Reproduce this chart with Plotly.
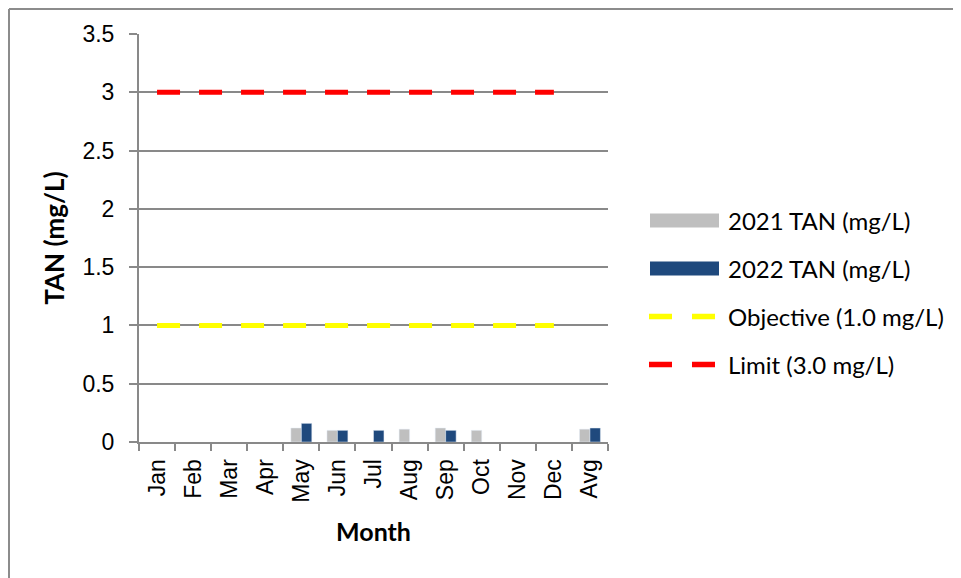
import plotly.graph_objects as go

months = ["Jan", "Feb", "Mar", "Apr", "May", "Jun", "Jul", "Aug", "Sep", "Oct", "Nov", "Dec", "Avg"]
tan_2021 = [None, None, None, None, 0.12, 0.10, None, 0.11, 0.12, 0.10, None, None, 0.11]
tan_2022 = [None, None, None, None, 0.16, 0.10, 0.10, None, 0.10, None, None, None, 0.12]
line_months = months[:12]
objective = [1.0] * 12
limit = [3.0] * 12
y_ticks = [0, 0.5, 1, 1.5, 2, 2.5, 3, 3.5]
y_tick_labels = ["0", "0.5", "1", "1.5", "2", "2.5", "3", "3.5"]

series_names = ["2021 TAN (mg/L)", "2022 TAN (mg/L)", "Objective (1.0 mg/L)", "Limit (3.0 mg/L)"]
series_colors = ["#BFBFBF", "#1F497D", "#FFFF00", "#FF0000"]
series_kinds = ["bar", "bar", "line", "line"]

FONT = "Lato"
TICKFONT = "Liberation Sans"
GRID = "#898989"
DASH = "23px,19px"

fig = go.Figure()
fig.add_trace(go.Bar(x=months, y=tan_2021, name=series_names[0], marker_color=series_colors[0],
                     showlegend=False))
fig.add_trace(go.Bar(x=months, y=tan_2022, name=series_names[1], marker_color=series_colors[1],
                     showlegend=False))
fig.add_trace(go.Scatter(x=line_months, y=objective, name=series_names[2], mode="lines",
                         line=dict(color=series_colors[2], width=5, dash=DASH), showlegend=False))
fig.add_trace(go.Scatter(x=line_months, y=limit, name=series_names[3], mode="lines",
                         line=dict(color=series_colors[3], width=5, dash=DASH), showlegend=False))

# plot area in the page: x 139..608, y 34..442 (page has an 8px body margin)
def px_x(px):
    return (px - 139) / 469.0

def px_y(py):
    return (442 - py) / 408.0

# legend (drawn manually to get wide swatches like the original)
for i, (name, color, kind) in enumerate(zip(series_names, series_colors, series_kinds)):
    cy = 220.5 + 48 * i
    if kind == "bar":
        fig.add_shape(type="rect", xref="paper", yref="paper",
                      x0=px_x(650), x1=px_x(719), y0=px_y(cy - 7), y1=px_y(cy + 7),
                      fillcolor=color, line=dict(width=0))
    else:
        fig.add_shape(type="line", xref="paper", yref="paper",
                      x0=px_x(649), x1=px_x(716), y0=px_y(cy), y1=px_y(cy),
                      line=dict(color=color, width=5.5, dash="23px,20px"))
    fig.add_annotation(text=name, xref="paper", yref="paper", x=px_x(726), y=px_y(cy),
                       xanchor="left", yanchor="middle", showarrow=False,
                       font=dict(family=FONT, size=24, color="black"))

# outer chart frame (partly visible)
fig.add_shape(type="line", xref="paper", yref="paper", x0=px_x(9), x1=px_x(1000),
              y0=px_y(9), y1=px_y(9), line=dict(color="#8C8C8C", width=2), layer="below")
fig.add_shape(type="line", xref="paper", yref="paper", x0=px_x(9), x1=px_x(9),
              y0=px_y(9), y1=px_y(700), line=dict(color="#8C8C8C", width=2), layer="below")

fig.update_layout(
    width=953, height=570,
    margin=dict(l=131, r=353, t=26, b=136),
    paper_bgcolor="white", plot_bgcolor="white",
    font=dict(family=FONT, size=24, color="black"),
    barmode="group", bargap=0.42, bargroupgap=0,
    showlegend=False,
    xaxis=dict(
        type="category", tickson="boundaries", ticks="outside", ticklen=7, tickwidth=2,
        tickcolor=GRID, showline=True, linecolor=GRID, linewidth=2, tickangle=-90,
        showgrid=False, range=[-0.5, 12.5], ticklabelstandoff=6,
        tickfont=dict(family=TICKFONT, size=23),
        title=dict(text="<b>Month</b>", font=dict(size=25, family=FONT), standoff=22),
    ),
    yaxis=dict(
        range=[0, 3.5], tickvals=y_ticks, ticktext=y_tick_labels, ticks="outside", ticklen=8,
        tickwidth=2, tickcolor=GRID, showline=True, linecolor=GRID, linewidth=2,
        showgrid=True, gridcolor=GRID, gridwidth=2, zeroline=False, ticklabelstandoff=10,
        tickfont=dict(family=TICKFONT, size=23),
        title=dict(text="<b>TAN (mg/L)</b>", font=dict(size=26, family=FONT), standoff=10),
    ),
)

fig.write_html("out.html")
